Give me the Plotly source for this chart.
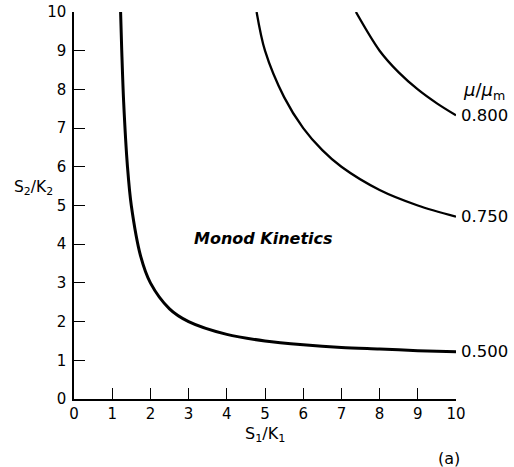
import plotly.graph_objects as go

# Values (x = S1/K1, y = S2/K2)
x_050 = [1.22, 1.25, 1.3, 1.4, 1.5, 1.75, 2.0, 2.5, 3.0, 4.0, 5.0, 6.0, 7.0, 8.0, 9.0, 10.0]
y_050 = [10.0, 9.0, 7.67, 6.0, 5.0, 3.67, 3.0, 2.33, 2.0, 1.67, 1.5, 1.4, 1.33, 1.29, 1.25, 1.22]

x_075 = [4.78, 5.0, 5.5, 6.0, 6.5, 7.0, 8.0, 9.0, 10.0]
y_075 = [10.0, 9.0, 7.8, 7.0, 6.43, 6.0, 5.4, 5.0, 4.71]

x_080 = [7.38, 8.0, 8.5, 9.0, 9.5, 10.0]
y_080 = [10.0, 9.0, 8.44, 8.0, 7.64, 7.33]

curve_labels = ["0.500", "0.750", "0.800"]
x_ticks = list(range(0, 11))
y_ticks = list(range(0, 11))

FONT = "DejaVu Sans"

fig = go.Figure()
for xs, ys, w in [(x_050, y_050, 3.0), (x_075, y_075, 2.3), (x_080, y_080, 2.3)]:
    fig.add_trace(go.Scatter(x=xs, y=ys, mode="lines",
                             line=dict(color="black", width=w, shape="spline", smoothing=0.9),
                             hoverinfo="skip", showlegend=False))

for lab, ys in zip(curve_labels, [y_050, y_075, y_080]):
    fig.add_annotation(x=10, y=ys[-1], xref="x", yref="y", text=lab, showarrow=False,
                       xanchor="left", yanchor="middle", xshift=3,
                       font=dict(family=FONT, size=16.5, color="black"))

fig.add_annotation(x=10, y=7.95, xref="x", yref="y", text="<i>μ</i>/<i>μ</i><sub>m</sub>",
                   showarrow=False, xanchor="left", yanchor="middle", xshift=5,
                   font=dict(family=FONT, size=18, color="black"))

fig.add_annotation(x=4.97, y=4.16, xref="x", yref="y", text="<b><i>Monod Kinetics</i></b>",
                   showarrow=False, xanchor="center", yanchor="middle",
                   font=dict(family=FONT, size=16, color="black"))

fig.add_annotation(x=-0.05, y=5.45, xref="paper", yref="y", text="S<sub>2</sub>/K<sub>2</sub>",
                   showarrow=False, xanchor="right", yanchor="middle",
                   font=dict(family=FONT, size=15.5, color="black"))

fig.add_annotation(x=0.5, y=-0.06, xref="paper", yref="paper", text="S<sub>1</sub>/K<sub>1</sub>",
                   showarrow=False, xanchor="center", yanchor="top",
                   font=dict(family=FONT, size=16, color="black"))

fig.add_annotation(x=0.982, y=-0.125, xref="paper", yref="paper", text="(a)",
                   showarrow=False, xanchor="center", yanchor="top",
                   font=dict(family=FONT, size=16, color="black"))

axis_common = dict(range=[0, 10], showgrid=False, zeroline=False, showline=True,
                   linecolor="black", linewidth=1.5, ticks="inside", ticklen=11,
                   tickwidth=1.3, tickcolor="black", automargin=False,
                   tickfont=dict(family=FONT, size=15, color="black"), fixedrange=True)

fig.update_xaxes(tickvals=x_ticks, ticktext=[str(v) for v in x_ticks], **axis_common)
fig.update_yaxes(tickvals=y_ticks, ticktext=[str(v) for v in y_ticks], ticklabelstandoff=3,
                 **axis_common)

fig.update_layout(width=514, height=467, margin=dict(l=74, r=58, t=12, b=68, autoexpand=False),
                  paper_bgcolor="white", plot_bgcolor="white")

fig.write_html("out.html")
